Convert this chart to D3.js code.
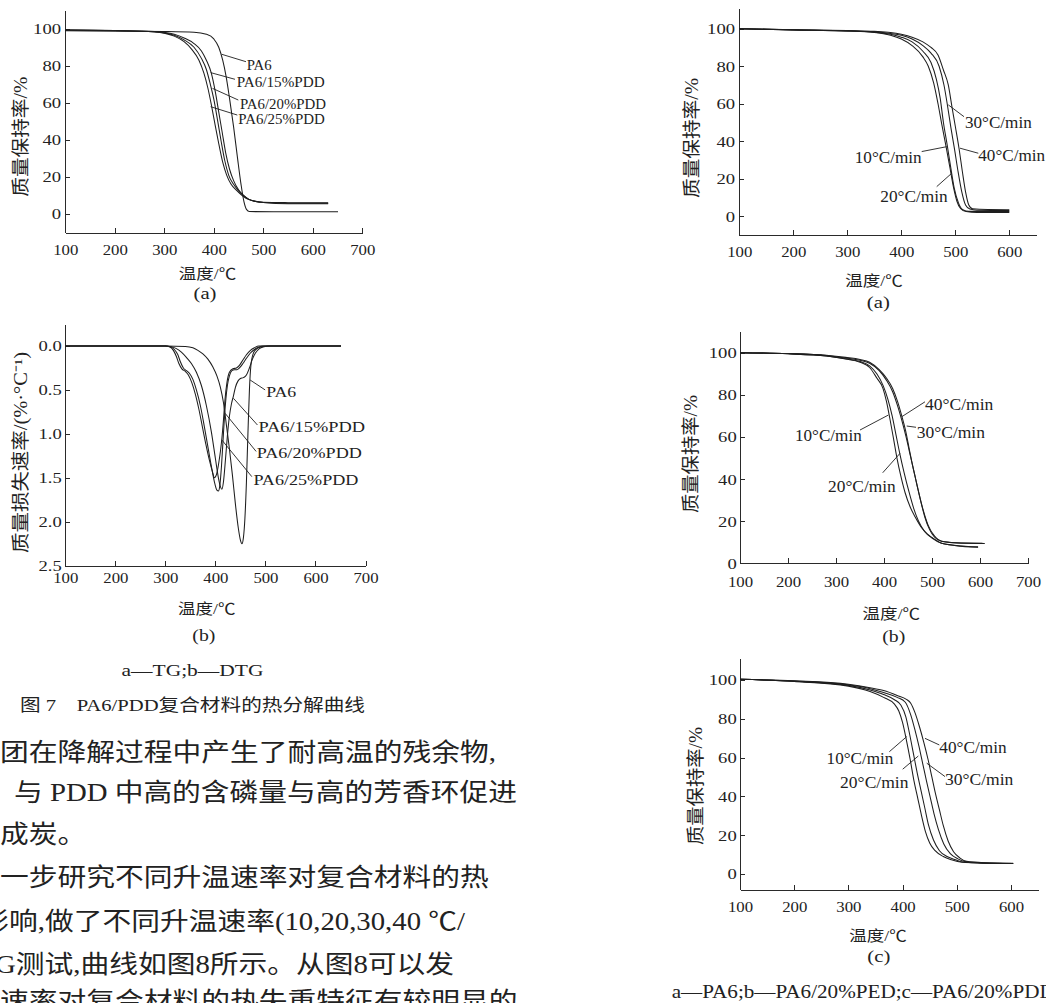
<!DOCTYPE html>
<html>
<head>
<meta charset="utf-8">
<script src="https://cdn.jsdelivr.net/npm/d3@7"></script>
<style>
  body { margin: 0; background: #fff; }
  svg { display: block; }
  .axis path, .axis line { stroke: #2a2a2a; stroke-width: 1; shape-rendering: crispEdges; }
  .curve { fill: none; stroke: #1e1e1e; stroke-width: 1.05; }
  .lead { stroke: #1e1e1e; stroke-width: 0.9; }
</style>
</head>
<body>
<svg id="page" width="1046" height="1003"></svg>
<script>
// ---------- data: temperature (°C) / value pairs ----------

// Fig 7(a) TG, mass retention %
var tgPA6    = [[100,98.9],[200,98.7],[300,98.5],[360,98.1],[385,97],[400,94.5],[410,90],[418,83],[425,74],[432,62],[440,47],[448,30],[455,16],[461,6.5],[466,2.5],[472,1.3],[520,1.2],[651,1.2]];
var tgPDD15  = [[100,99.3],[200,99],[280,98.5],[320,97],[340,95],[360,92],[375,88],[385,83],[395,76],[403,66],[410,55],[417,44],[424,33],[432,24],[440,18],[450,13],[460,10],[470,8],[485,6.8],[500,6.3],[550,6.1],[631,6]];
var tgPDD20  = [[100,99.3],[200,99],[280,98.4],[320,96.5],[340,94],[360,90],[375,84],[385,78],[393,70],[400,62],[408,50],[415,39],[422,29],[430,21],[440,16],[450,12.5],[460,10],[470,8],[485,6.7],[500,6.2],[550,5.8],[631,5.8]];
var tgPDD25  = [[100,99.3],[200,99],[280,98.3],[320,96],[340,93],[355,89],[370,83],[380,76],[388,68],[395,59],[402,49],[410,38],[418,28],[426,21],[435,16],[445,13],[455,10.5],[465,8.5],[480,7],[500,6.2],[550,5.5],[631,5.5]];

// Fig 7(b) DTG, mass loss rate %/°C
var dtgPA6   = [[100,0],[300,0],[340,0.005],[355,0.02],[365,0.05],[375,0.09],[385,0.15],[395,0.24],[403,0.34],[410,0.47],[416,0.64],[422,0.9],[428,1.17],[434,1.47],[440,1.8],[446,2.08],[450,2.21],[453,2.25],[456,2.18],[459,1.96],[462,1.55],[465,1.0],[468,0.5],[471,0.22],[476,0.08],[483,0.03],[492,0.01],[505,0],[651,0]];
var dtgPDD15 = [[100,0],[300,0],[312,0.01],[322,0.03],[332,0.07],[342,0.13],[352,0.2],[362,0.3],[372,0.45],[382,0.68],[392,0.98],[400,1.28],[406,1.5],[410,1.6],[413,1.63],[416,1.55],[420,1.3],[424,1.02],[428,0.8],[432,0.66],[436,0.57],[440,0.47],[445,0.4],[450,0.37],[456,0.36],[462,0.33],[468,0.25],[474,0.15],[480,0.08],[488,0.03],[497,0.01],[510,0],[651,0]];
var dtgPDD20 = [[100,0],[300,0],[310,0.01],[318,0.04],[325,0.1],[330,0.18],[336,0.25],[342,0.28],[348,0.31],[355,0.38],[362,0.5],[370,0.68],[378,0.92],[386,1.18],[393,1.4],[399,1.57],[403,1.64],[406,1.65],[409,1.58],[412,1.38],[415,1.1],[418,0.82],[421,0.6],[424,0.45],[428,0.34],[433,0.28],[438,0.27],[443,0.27],[448,0.25],[455,0.2],[462,0.14],[470,0.08],[478,0.04],[486,0.015],[495,0],[651,0]];
var dtgPDD25 = [[100,0],[300,0],[308,0.01],[316,0.05],[322,0.12],[327,0.2],[333,0.26],[340,0.29],[346,0.33],[353,0.42],[360,0.55],[367,0.72],[374,0.92],[381,1.12],[388,1.3],[394,1.43],[398,1.5],[401,1.48],[404,1.42],[407,1.32],[410,1.2],[413,1.05],[416,0.85],[419,0.62],[423,0.42],[428,0.3],[435,0.26],[442,0.25],[448,0.22],[455,0.16],[462,0.1],[470,0.05],[478,0.02],[487,0],[651,0]];

// Fig 8(a) PA6 at 10/20/30/40 °C/min
var pa6R10 = [[100,100],[200,99.3],[300,98.8],[350,98],[380,96.5],[400,94.5],[420,91],[440,85],[450,80],[460,71],[468,60],[475,49],[483,37],[490,26],[497,15],[503,8],[510,4],[520,2.5],[540,2],[600,2]];
var pa6R20 = [[100,100],[200,99.4],[300,98.8],[350,98.2],[380,97],[400,95.5],[420,93],[440,88],[455,82],[465,73],[472,63],[478,50],[485,38],[491,27],[498,15],[506,7],[514,3.5],[525,2.6],[600,2.5]];
var pa6R30 = [[100,100],[200,99.5],[300,98.9],[350,98.4],[380,97.5],[400,96.5],[420,94.5],[440,91],[455,87],[470,80],[479,70],[485,60],[492,47],[499,35],[505,24],[512,13],[519,6],[527,3.8],[540,3.2],[600,3]];
var pa6R40 = [[100,100],[200,99.5],[300,99],[350,98.6],[380,98],[400,97],[420,95.5],[440,93],[455,90],[468,86],[478,78],[487,70],[494,58],[500,48],[507,36],[513,24],[519,13],[525,6],[532,4],[560,3.6],[600,3.5]];

// Fig 8(b) PA6/20%PED
var pedR10 = [[100,100],[200,99.5],[280,98.5],[320,97],[350,95.5],[370,93],[385,88],[398,83],[405,77],[412,69],[420,59],[427,50],[435,41.5],[444,33.5],[455,26.5],[465,22],[478,17],[490,14],[505,11.5],[520,9.5],[550,8.5],[596,7.8]];
var pedR20 = [[100,100],[200,99.5],[280,98.5],[320,97.2],[350,95.8],[370,93.8],[385,90],[398,84.5],[408,78],[417,70],[425,61],[433,52],[442,43],[452,34],[462,26],[472,20],[485,15],[500,12],[520,9.5],[550,8.4],[596,7.6]];
var pedR30 = [[100,100],[200,99.6],[280,98.7],[320,97.5],[350,96.4],[370,95],[390,91.5],[405,87],[418,81.5],[428,75],[437,68],[446,60],[455,51],[464,42],[473,33],[482,25],[492,18],[505,13],[520,10.5],[550,9.8],[605,9.5]];
var pedR40 = [[100,100],[200,99.6],[280,98.8],[320,97.8],[350,96.8],[370,95.5],[390,92],[405,88],[418,83],[428,77],[437,70],[445,63],[452,55],[460,46],[468,38],[476,30],[485,22],[495,16],[505,12.5],[520,10.5],[550,9.7],[610,9.4]];

// Fig 8(c) PA6/20%PDD
var pddR10 = [[100,100.3],[200,99.2],[300,96.8],[340,94],[365,91],[385,87.5],[393,84],[400,78],[407,69],[414,59],[421,48],[428,39],[435,30],[442,22],[450,16],[460,12],[475,9],[490,7.3],[510,6],[550,5.6],[604,5.4]];
var pddR20 = [[100,100.3],[200,99.3],[300,97.2],[340,94.8],[365,92.5],[385,89.8],[397,87],[406,81],[413,72],[420,62],[427,52],[434,43],[441,34],[448,25],[457,17.5],[468,12],[482,9],[496,7.5],[510,6.2],[550,5.6],[604,5.4]];
var pddR30 = [[100,100.3],[200,99.4],[300,97.5],[340,95.5],[365,93.5],[390,91],[405,88.5],[415,82],[423,74],[430,66],[437,57],[444,48],[451,39.5],[458,31],[466,23],[476,15.5],[488,10.5],[502,7.8],[515,6.4],[550,5.7],[604,5.4]];
var pddR40 = [[100,100.3],[200,99.5],[300,97.8],[340,96],[365,94.5],[390,92],[407,90],[415,88],[423,83],[431,76],[439,68],[447,59],[454,50],[461,41],[468,33],[475,25],[484,17],[494,11.5],[506,8.2],[518,6.5],[550,5.8],[604,5.5]];

// ticks and texts
var tempTicks7 = [100,200,300,400,500,600,700];
var tempTicks6 = [100,200,300,400,500,600];
var pctTicks   = [0,20,40,60,80,100];
var rateTicks  = [0,0.5,1.0,1.5,2.0,2.5];
var fig7Names  = ["PA6","PA6/15%PDD","PA6/20%PDD","PA6/25%PDD"];
var rateNames  = ["10°C/min","20°C/min","30°C/min","40°C/min"];
var xTitle     = "温度/℃";
var tgTitle    = "质量保持率/%";
var dtgTitle   = "质量损失速率/(%·°C⁻¹)";
var fig7Notes  = ["a—TG;b—DTG", "图 7　PA6/PDD复合材料的热分解曲线"];
var fig8Note   = "a—PA6;b—PA6/20%PED;c—PA6/20%PDD";
var bodyLines  = [
  "团在降解过程中产生了耐高温的残余物,",
  "与 PDD 中高的含磷量与高的芳香环促进",
  "成炭。",
  "一步研究不同升温速率对复合材料的热",
  "影响,做了不同升温速率(10,20,30,40 ℃/",
  "TG测试,曲线如图8所示。从图8可以发",
  "升温速率对复合材料的热失重特征有较明显的"
];

// ---------- drawing ----------
var serif = '"Liberation Serif","Noto Sans CJK SC",serif';
var svg = d3.select("#page");
svg.append("rect").attr("width", 1046).attr("height", 1003).attr("fill", "#fff");

function addText(g, str, x, y, o) {
  o = o || {};
  var tf = "translate(" + x + "," + y + ")";
  if (o.rotate) tf += " rotate(-90)";
  if (o.sx) tf += o.rotate ? " scale(1," + o.sx + ")" : " scale(" + o.sx + ",1)";
  var t = g.append("text")
      .attr("transform", tf)
      .attr("text-anchor", o.anchor || "start")
      .attr("font-family", o.family || serif)
      .attr("font-size", o.size || 15)
      .attr("fill", "#222")
      .text(str);
  if (o.dy) t.attr("dy", o.dy);
  if (o.len) t.attr("textLength", o.len).attr("lengthAdjust", "spacingAndGlyphs");
  return t;
}

function drawPanel(p) {
  var x = d3.scaleLinear().domain(p.xDomain).range(p.xRange);
  var y = d3.scaleLinear().domain(p.yDomain).range(p.yRange);
  var g = svg.append("g");
  var axisY = d3.max(p.yRange);

  var gx = g.append("g").attr("class", "axis")
      .attr("transform", "translate(0," + axisY + ")")
      .style("color", "#222")
      .call(d3.axisBottom(x).tickValues(p.xTicks).tickSize(-5).tickSizeOuter(0).tickFormat(d3.format("d")));
  gx.attr("font-family", serif).attr("font-size", 15.5);
  gx.selectAll(".tick text").attr("y", p.xLabelY).attr("dy", null).attr("transform", "scale(1.08,1)");

  var gy = g.append("g").attr("class", "axis")
      .attr("transform", "translate(" + p.xRange[0] + ",0)")
      .style("color", "#222")
      .call(d3.axisLeft(y).tickValues(p.yTicks).tickSize(-5).tickSizeOuter(0).tickFormat(d3.format(p.yFormat)));
  gy.attr("font-family", serif).attr("font-size", 15.5);
  gy.selectAll(".tick text").attr("x", -p.yGap / 1.2).attr("transform", "scale(1.2,1)");

  var line = d3.line()
      .x(function(d) { return x(d[0]); })
      .y(function(d) { return y(d[1]); })
      .curve(d3.curveMonotoneX);
  p.series.forEach(function(s) {
    g.append("path").attr("class", "curve").attr("d", line(s));
  });

  p.labels.forEach(function(l, i) {
    g.append("line").attr("class", "lead")
      .attr("x1", x(l.a[0])).attr("y1", y(l.a[1]))
      .attr("x2", x(l.b[0])).attr("y2", y(l.b[1]));
    addText(g, p.names[i], x(l.t[0]), y(l.t[1]), {anchor: l.anchor || "start", size: p.labelSize, len: l.len});
  });

  addText(g, xTitle, p.xTitle[0], p.xTitle[1], {anchor: "middle", size: 15, len: 57.5});
  addText(g, p.tag, p.tagPos[0], p.tagPos[1], {anchor: "middle", size: 16, len: 23});
  addText(g, p.yTitleText, p.yTitle[0], p.yTitle[1], {anchor: "middle", size: 16, len: p.yTitle[2], rotate: true, sx: 1.15, dy: "0.36em"});
}

// Fig 7(a)
drawPanel({
  xDomain: [100, 700], xRange: [65.3, 362.3],
  yDomain: [-10, 110], yRange: [232.5, 10.2],
  xTicks: tempTicks7, yTicks: pctTicks, yFormat: "d",
  xLabelY: 22.5, yGap: 4.3,
  series: [tgPA6, tgPDD15, tgPDD20, tgPDD25],
  names: fig7Names, labelSize: 15,
  labels: [
    {a: [416, 86.2], b: [465, 82.2], t: [466.5, 77.7], len: 25},
    {a: [393.7, 76.3], b: [442.8, 72.7], t: [446.3, 68.4], len: 88},
    {a: [397.4, 67.8], b: [449.5, 61.5], t: [452.9, 56.7], len: 86},
    {a: [393.7, 57.9], b: [447.5, 53.4], t: [449.5, 48.6], len: 86.5}
  ],
  xTitle: [207.5, 279], tag: "(a)", tagPos: [205, 298.5],
  yTitleText: tgTitle, yTitle: [20, 136.7, 120]
});

// Fig 7(b)
drawPanel({
  xDomain: [100, 700], xRange: [65.3, 365.5],
  yDomain: [-0.25, 2.5], yRange: [324, 565.7],
  xTicks: tempTicks7, yTicks: rateTicks, yFormat: ".1f",
  xLabelY: 17.3, yGap: 3.6,
  series: [dtgPA6, dtgPDD15, dtgPDD20, dtgPDD25],
  names: fig7Names, labelSize: 15.5,
  labels: [
    {a: [469.4, 0.387], b: [499.4, 0.5], t: [501.4, 0.577], len: 30},
    {a: [436, 0.595], b: [484, 0.899], t: [486, 0.975], len: 106.5},
    {a: [419.4, 0.766], b: [481.4, 1.2], t: [482.8, 1.278], len: 105},
    {a: [412.8, 1.069], b: [472.8, 1.487], t: [476, 1.58], len: 105}
  ],
  xTitle: [206.7, 614], tag: "(b)", tagPos: [203.8, 641],
  yTitleText: dtgTitle, yTitle: [20, 452.5, 201]
});

// Fig 8(a)
drawPanel({
  xDomain: [100, 650], xRange: [739.3, 1036.3],
  yDomain: [-10, 111], yRange: [235, 8.1],
  xTicks: tempTicks6, yTicks: pctTicks, yFormat: "d",
  xLabelY: 21.7, yGap: 4.3,
  series: [pa6R10, pa6R20, pa6R30, pa6R40],
  names: rateNames, labelSize: 16.5,
  labels: [
    {a: [484.1, 37.1], b: [437.8, 34.5], t: [437.8, 28.3], anchor: "end", len: 67},
    {a: [493.3, 22.9], b: [465.6, 15.8], t: [423.5, 7.8], anchor: "middle", len: 67.5},
    {a: [487, 59.4], b: [516.1, 53.1], t: [518, 46.9], len: 66.7},
    {a: [508.7, 36.3], b: [542.6, 33.6], t: [542.6, 29.5], len: 66.7}
  ],
  xTitle: [874, 286], tag: "(a)", tagPos: [878.3, 308],
  yTitleText: tgTitle, yTitle: [691.7, 138, 120]
});

// Fig 8(b)
drawPanel({
  xDomain: [100, 700], xRange: [740, 1028],
  yDomain: [0, 110], yRange: [563.3, 331.7],
  xTicks: tempTicks7, yTicks: pctTicks, yFormat: "d",
  xLabelY: 23.4, yGap: 3.3,
  series: [pedR10, pedR20, pedR30, pedR40],
  names: rateNames, labelSize: 16.5,
  labels: [
    {a: [409, 70.4], b: [350, 63.3], t: [353.5, 58.2], anchor: "end", len: 66.7},
    {a: [433.3, 52.2], b: [397.3, 43], t: [354, 34], anchor: "middle", len: 67.7},
    {a: [447.3, 65.2], b: [466.7, 64.6], t: [468.1, 59.4], len: 68.3},
    {a: [436.9, 69.6], b: [485.4, 76.7], t: [485.4, 72.8], len: 68.3}
  ],
  xTitle: [891.3, 619], tag: "(b)", tagPos: [893.7, 641.5],
  yTitleText: tgTitle, yTitle: [690, 454, 118]
});

// Fig 8(c)
drawPanel({
  xDomain: [100, 650], xRange: [740, 1038.1],
  yDomain: [-8.2, 111.3], yRange: [889.9, 658],
  xTicks: tempTicks6, yTicks: pctTicks, yFormat: "d",
  xLabelY: 21.7, yGap: 3.3,
  series: [pddR10, pddR20, pddR30, pddR40],
  names: rateNames, labelSize: 16.5,
  labels: [
    {a: [407.6, 70.8], b: [375.5, 63.0], t: [382.8, 56.7], anchor: "end", len: 66.7},
    {a: [429, 60.8], b: [400.2, 54], t: [347.7, 44.2], anchor: "middle", len: 68.3},
    {a: [444.5, 57.1], b: [478.2, 50.2], t: [478.2, 45.9], len: 68.3},
    {a: [441.3, 69.9], b: [467.7, 66.5], t: [467.7, 62.2], len: 67.3}
  ],
  xTitle: [878, 941], tag: "(c)", tagPos: [878.8, 961.5],
  yTitleText: tgTitle, yTitle: [695, 786, 118]
});

// figure captions
var cap = svg.append("g");
addText(cap, fig7Notes[0], 192.5, 676, {anchor: "middle", size: 17, len: 142});
addText(cap, fig7Notes[1], 20, 711, {size: 17, len: 345});
addText(cap, fig8Note, 671.7, 998.3, {size: 18, len: 383});

// running text of the left column (cut by the page crop)
var bodyX = [0, 14, 0, 0, -19.75, -22.6, -57.5];
var bodyY = [761, 801, 842.5, 886, 929.5, 973, 1010];
var body = svg.append("g");
bodyLines.forEach(function(s, i) {
  addText(body, s, bodyX[i], bodyY[i], {size: 25, sx: 1.15});
});
</script>
</body>
